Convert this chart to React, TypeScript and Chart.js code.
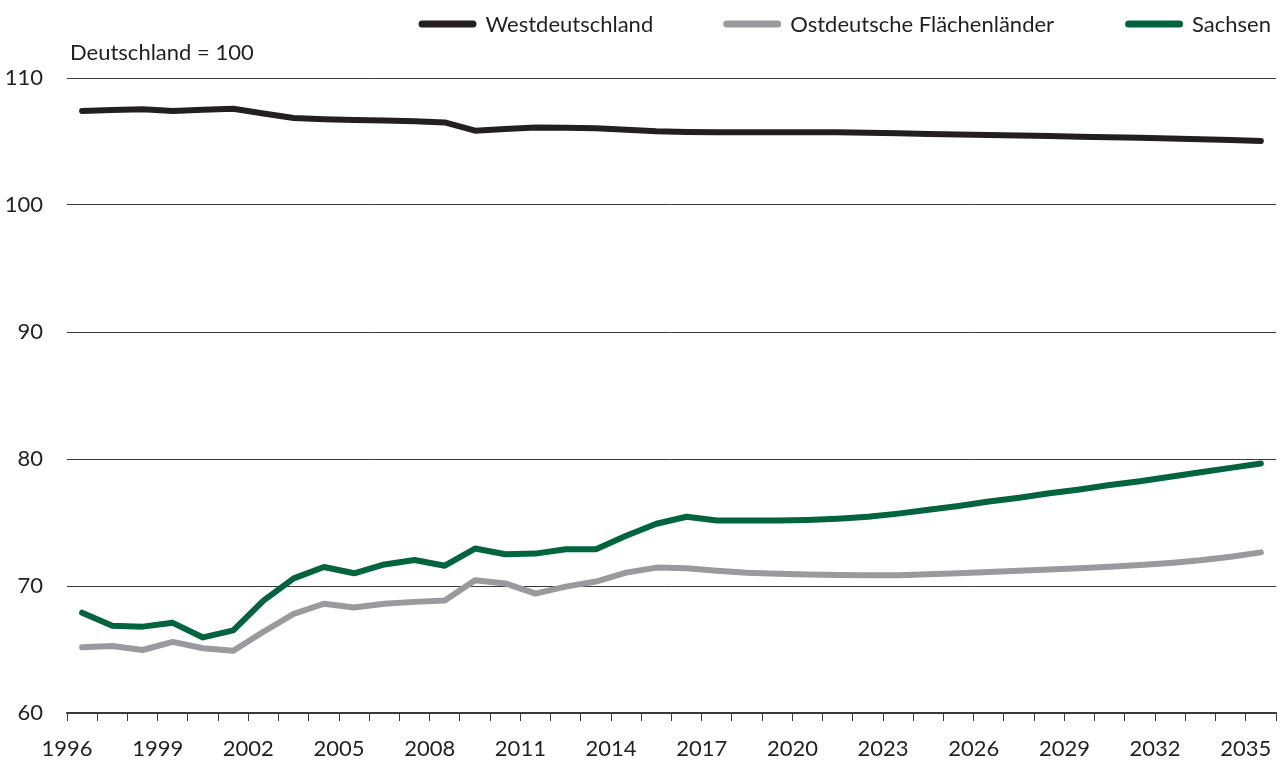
import React, { useEffect, useRef } from "react";
import { Chart, registerables } from "chart.js";

Chart.register(...registerables);

const years = [
  1996, 1997, 1998, 1999, 2000, 2001, 2002, 2003, 2004, 2005,
  2006, 2007, 2008, 2009, 2010, 2011, 2012, 2013, 2014, 2015,
  2016, 2017, 2018, 2019, 2020, 2021, 2022, 2023, 2024, 2025,
  2026, 2027, 2028, 2029, 2030, 2031, 2032, 2033, 2034, 2035,
];

const westdeutschland = [
  107.4, 107.48, 107.53, 107.4, 107.5, 107.58, 107.2, 106.85, 106.75, 106.7,
  106.65, 106.6, 106.5, 105.85, 105.98, 106.1, 106.08, 106.05, 105.92, 105.8,
  105.75, 105.72, 105.72, 105.72, 105.73, 105.72, 105.68, 105.64, 105.6, 105.56,
  105.52, 105.47, 105.43, 105.38, 105.34, 105.29, 105.24, 105.18, 105.11, 105.04,
];

const ostdeutscheFlaechenlaender = [
  65.17, 65.28, 64.96, 65.6, 65.1, 64.9, 66.4, 67.8, 68.6, 68.3,
  68.6, 68.75, 68.85, 70.45, 70.2, 69.4, 69.95, 70.35, 71.05, 71.45,
  71.4, 71.2, 71.05, 70.97, 70.9, 70.86, 70.84, 70.85, 70.92, 71.0,
  71.1, 71.2, 71.3, 71.4, 71.52, 71.66, 71.82, 72.02, 72.3, 72.65,
];

const sachsen = [
  67.9, 66.87, 66.8, 67.1, 65.95, 66.5, 68.85, 70.6, 71.5, 71.0,
  71.7, 72.05, 71.6, 72.95, 72.5, 72.55, 72.9, 72.9, 73.95, 74.9,
  75.45, 75.15, 75.15, 75.15, 75.2, 75.3, 75.45, 75.7, 76.0, 76.3,
  76.65, 76.95, 77.3, 77.6, 77.95, 78.25, 78.6, 78.95, 79.3, 79.65,
];

const seriesLabels = ["Westdeutschland", "Ostdeutsche Flächenländer", "Sachsen"];
const seriesColors = ["#231f20", "#9a9a9e", "#00643f"];
const unitNote = "Deutschland = 100";
const yTicks = [60, 70, 80, 90, 100, 110];
const labelStep = 3;

const TEXT = "#231f20";
const FONT = 'Lato, "Noto Sans", sans-serif';
const FONT_SIZE = 22;

const headerPlugin = {
  id: "headerPlugin",
  afterDraw(chart: any) {
    const { ctx, chartArea } = chart;
    ctx.save();
    ctx.font = `${FONT_SIZE}px ${FONT}`;
    ctx.fillStyle = TEXT;
    ctx.textBaseline = "alphabetic";
    ctx.textAlign = "left";
    ctx.fillText(unitNote, chartArea.left + 3, chartArea.top - 18);

    // legend, right aligned
    const sampleW = 58;
    const sampleGap = 9;
    const itemGaps = [70, 71];
    const cy = chartArea.top - 54;
    const items = chart.data.datasets.map((ds: any) => ({
      label: ds.label,
      color: ds.borderColor,
      w: sampleW + sampleGap + ctx.measureText(ds.label).width,
      x: 0,
    }));
    let x = chartArea.right - 5;
    for (let i = items.length - 1; i >= 0; i--) {
      x -= items[i].w;
      items[i].x = x;
      if (i > 0) x -= itemGaps[i - 1];
    }
    ctx.lineCap = "round";
    ctx.lineWidth = 7;
    for (const it of items) {
      ctx.strokeStyle = it.color;
      ctx.beginPath();
      ctx.moveTo(it.x + 3.5, cy);
      ctx.lineTo(it.x + sampleW - 3.5, cy);
      ctx.stroke();
      ctx.fillStyle = TEXT;
      ctx.textBaseline = "middle";
      ctx.fillText(it.label, it.x + sampleW + sampleGap, cy + 1);
    }
    ctx.restore();
  },
};

export default function App() {
  const ref = useRef<HTMLCanvasElement | null>(null);

  useEffect(() => {
    if (!ref.current) return;
    Chart.defaults.font.family = FONT;
    Chart.defaults.font.size = FONT_SIZE;
    Chart.defaults.color = TEXT;

    const series = [westdeutschland, ostdeutscheFlaechenlaender, sachsen];
    const chart = new Chart(ref.current, {
      type: "line",
      data: {
        datasets: series.map((vals, s) => ({
          label: seriesLabels[s],
          data: years.map((yr, i) => ({ x: yr + 0.5, y: vals[i] })),
          borderColor: seriesColors[s],
          backgroundColor: seriesColors[s],
          borderWidth: 6,
          pointRadius: 0,
          tension: 0,
          borderCapStyle: "round",
          borderJoinStyle: "round",
        })),
      },
      options: {
        animation: false,
        responsive: true,
        maintainAspectRatio: false,
        layout: { autoPadding: false, padding: { top: 78, right: 6, bottom: 0, left: 0 } },
        plugins: {
          legend: { display: false },
          tooltip: { enabled: false },
        },
        scales: {
          x: {
            type: "linear",
            min: years[0],
            max: years[years.length - 1] + 1,
            afterBuildTicks(scale: any) {
              const t = [];
              for (let v = years[0]; v <= years[years.length - 1] + 1; v++) t.push({ value: v });
              scale.ticks = t;
            },
            afterFit(scale: any) {
              scale.height = 47;
              scale.paddingRight = 0;
              scale.paddingLeft = 0;
            },
            ticks: {
              autoSkip: false,
              maxRotation: 0,
              padding: 15,
              color: TEXT,
              font: { size: FONT_SIZE },
              callback(v: any) {
                const n = Number(v);
                return (n - years[0]) % labelStep === 0 && n <= years[years.length - 1] ? String(n) : "";
              },
            },
            grid: {
              drawOnChartArea: false,
              drawTicks: true,
              tickLength: 8,
              color: "#3a3a3a",
              lineWidth: 1,
            },
            border: { display: true, color: "#3a3a3a", width: 1.5 },
          },
          y: {
            min: yTicks[0],
            max: yTicks[yTicks.length - 1],
            afterBuildTicks(scale: any) {
              scale.ticks = yTicks.map((v) => ({ value: v }));
            },
            afterFit(scale: any) {
              scale.width = 67;
            },
            ticks: {
              padding: 24,
              color: TEXT,
              font: { size: FONT_SIZE },
            },
            grid: {
              drawTicks: false,
              color: "#3a3a3a",
              lineWidth: 1,
            },
            border: { display: false },
          },
        },
      },
      plugins: [headerPlugin],
    });
    return () => chart.destroy();
  }, []);

  return (
    <div style={{ position: "fixed", left: 0, top: 0, width: 1282, height: 760, background: "#fff" }}>
      <canvas ref={ref} />
    </div>
  );
}
